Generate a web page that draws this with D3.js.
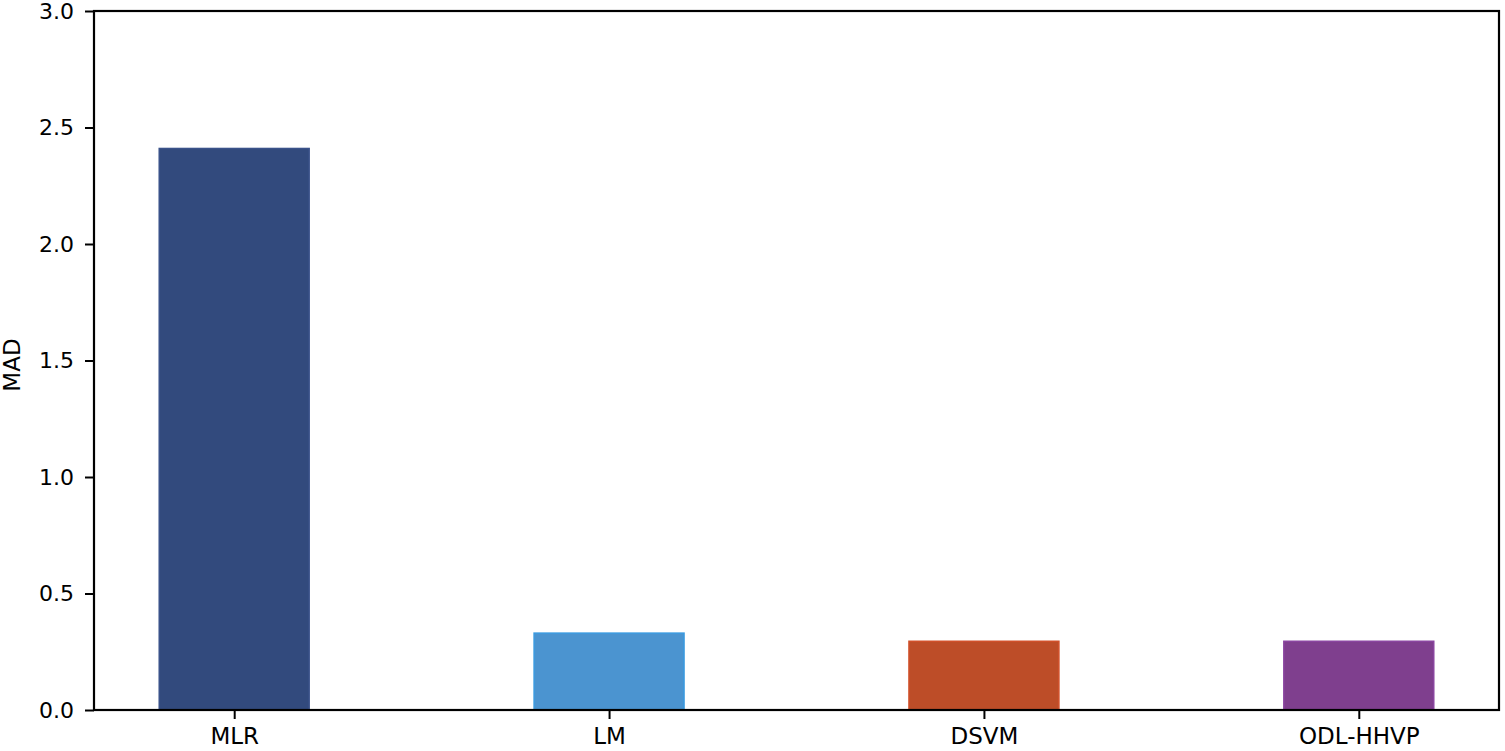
<!DOCTYPE html>
<html><head><meta charset="utf-8">
<script src="https://cdn.jsdelivr.net/npm/d3@7"></script>
<style>body{margin:0;background:#fff}svg{display:block}text{font-family:"DejaVu Sans",sans-serif}</style>
</head><body>
<svg id="c" width="1505" height="751"></svg>
<script>
const categories = ["MLR", "LM", "DSVM", "ODL-HHVP"];
const values = [2.41, 0.33, 0.295, 0.295];
const colors = ["#324a7d", "#4b94d0", "#bd4d28", "#7f3f8e"];
const edgeColors = ["#3a528a", "#3a9ae0", "#d0502a", "#8a45a0"];
const yTicks = [0.0, 0.5, 1.0, 1.5, 2.0, 2.5, 3.0];

const svg = d3.select("#c");
const L = 94, R = 1499, T = 11, B = 710;
const x = d3.scaleLinear().domain([-0.374, categories.length - 1 + 0.374]).range([L, R]);
const y = d3.scaleLinear().domain([0, 3]).range([B, T]);
const bw = 0.4;

svg.selectAll("rect.bar").data(values).join("rect")
  .attr("class", "bar")
  .attr("x", (d, i) => x(i - bw / 2))
  .attr("width", (d, i) => x(i + bw / 2) - x(i - bw / 2))
  .attr("y", d => y(d))
  .attr("height", d => y(0) - y(d))
  .attr("fill", (d, i) => colors[i])
  .attr("stroke", (d, i) => edgeColors[i])
  .attr("stroke-width", 1.5);

const yAxis = d3.axisLeft(y).tickValues(yTicks).tickFormat(d3.format(".1f")).tickSize(9).tickPadding(11);
const gy = svg.append("g").attr("transform", `translate(${L},0)`).call(yAxis);
const xAxis = d3.axisBottom(x).tickValues(d3.range(categories.length)).tickFormat(i => categories[i]).tickSize(9).tickPadding(9);
const gx = svg.append("g").attr("transform", `translate(0,${B})`).call(xAxis);
[gx, gy].forEach(g => {
  g.select(".domain").remove();
  g.selectAll(".tick line").attr("stroke", "#000").attr("stroke-width", 2);
  g.selectAll(".tick text").attr("fill", "#000").style("font-family", "DejaVu Sans");
});
gy.selectAll(".tick text").style("font-size", "22px");
gx.selectAll(".tick text").style("font-size", "23px");

svg.append("rect").attr("x", L).attr("y", T).attr("width", R - L).attr("height", B - T)
  .attr("fill", "none").attr("stroke", "#000").attr("stroke-width", 2.2);

svg.append("text").attr("transform", `translate(12,365) rotate(-90)`)
  .attr("text-anchor", "middle").attr("dy", "0.35em").style("font-size", "23px").attr("fill", "#000").text("MAD");
</script>
</body></html>
